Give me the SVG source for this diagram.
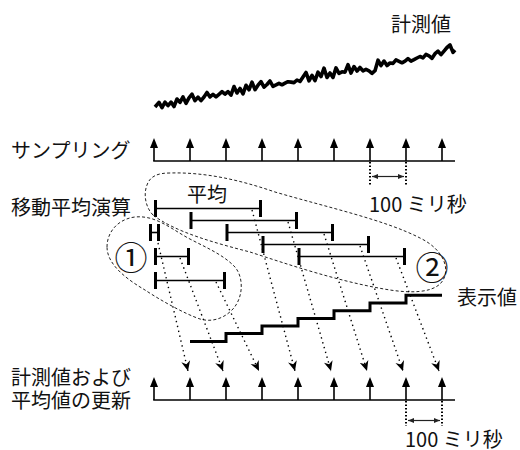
<svg xmlns="http://www.w3.org/2000/svg" width="520" height="450" viewBox="0 0 520 450">
<style>
.t{font-family:"Noto Sans CJK JP","Noto Sans",sans-serif;font-size:20px;fill:#111}
.ax{stroke:#000;stroke-width:1.6;fill:none}
.up{stroke:#000;stroke-width:1.6;fill:none;marker-end:url(#tri)}
.bar{stroke:#000;stroke-width:1.6;fill:none}
.tick{stroke:#000;stroke-width:3;fill:none}
.dot{stroke:#000;stroke-width:1.4;fill:none;stroke-dasharray:1.4 3.6;marker-end:url(#barb)}
.vd{stroke:#000;stroke-width:2;fill:none;stroke-dasharray:1.5 2}
.dim{stroke:#222;stroke-width:1.2;fill:none;marker-start:url(#sm);marker-end:url(#sm)}
.ell{stroke:#222;stroke-width:1;fill:none;stroke-dasharray:3 2.2}
.cn{font-size:33px}
</style>
<defs>
<marker id="tri" markerUnits="userSpaceOnUse" viewBox="0 0 10 10" markerWidth="10" markerHeight="10" refX="0" refY="5" orient="auto"><path d="M0,1 L10,5 L0,9 z" fill="#000"/></marker>
<marker id="barb" markerUnits="userSpaceOnUse" viewBox="0 0 10 10" markerWidth="10" markerHeight="10" refX="10" refY="5" orient="auto"><path d="M0,0.5 L10,5 L0,9.5 L3,5 z" fill="#000"/></marker>
<marker id="sm" markerUnits="userSpaceOnUse" viewBox="0 0 6 6" markerWidth="6" markerHeight="6" refX="6" refY="3" orient="auto-start-reverse"><path d="M0,0.5 L6,3 L0,5.5 z" fill="#222"/></marker>
</defs>

<g id="measured">
<polyline fill="none" stroke="#000" stroke-width="3.6" stroke-linejoin="round" points="155,107 159,102.3 162,107.7 165,102.2 168,105.6 171,102.1 174,106.5 177,99 180,102.4 183,96.9 186,103.3 189,97.8 192,94.2 195,100.7 198,97.1 201,100.6 204,97 207,92.5 210,96.9 213,94.4 216,96.8 219,94.3 222,91.7 225,94.2 228,91.6 231,95.1 234,86.5 237,93 240,88.4 243,93.9 246,85.3 249,89.8 252,82.2 255,89.7 258,85.2 261,81.6 264,87.1 267,84.5 270,81 273,86.4 276,84.9 279,83.3 282,84.8 285,83.2 288,81.7 291,82.1 294,82.6 297,80 300,81.5 303,76.9 306,72.4 309,80.8 312,75.3 315,80.7 318,72.2 321,76.6 324,68.1 327,77.5 330,73 333,77.4 336,67.9 339,73.3 342,71.8 345,72.2 348,64.7 351,73.1 354,66.6 357,71 360,67.5 363,70.9 366,69.4 369,70.8 372,73.3 375,70.7 378,60.2 381,65.6 384,61.1 387,65.5 390,63 393,63.4 396,59.9 399,61.3 402,62.8 405,61.2 408,58.7 411,61.1 414,59.6 417,58 420,56.5 423,57.9 426,54.4 429,55.8 432,58.3 435,53.7 438,51.2 441,54.6 444,51.1 447,47.5 450,45 453,52.4 455,50"/>
<text class="t" x="391" y="31.5">計測値</text>
</g>

<g id="sampling">
<text class="t" x="11" y="158">サンプリング</text>
<line class="ax" x1="153.2" y1="161" x2="455" y2="161"/>
<line class="up" x1="154" y1="161" x2="154" y2="148"/>
<line class="up" x1="190" y1="161" x2="190" y2="148"/>
<line class="up" x1="226" y1="161" x2="226" y2="148"/>
<line class="up" x1="262" y1="161" x2="262" y2="148"/>
<line class="up" x1="298" y1="161" x2="298" y2="148"/>
<line class="up" x1="334" y1="161" x2="334" y2="148"/>
<line class="up" x1="370" y1="161" x2="370" y2="148"/>
<line class="up" x1="406" y1="161" x2="406" y2="148"/>
<line class="up" x1="442" y1="161" x2="442" y2="148"/>
<line class="vd" x1="370" y1="162" x2="370" y2="185"/>
<line class="vd" x1="406" y1="162" x2="406" y2="185"/>
<line class="dim" x1="372" y1="176.5" x2="404" y2="176.5"/>
<text class="t" x="369" y="211.5">100 ミリ秒</text>
</g>

<g id="moving-average">
<text class="t" x="11" y="215">移動平均演算</text>
<text class="t" x="187" y="201.5">平均</text>
<g id="bar1"><line class="bar" x1="155.5" y1="208.5" x2="260.5" y2="208.5"/><path class="tick" d="M155.5,200V217M260.5,200V217"/></g>
<g id="bar2"><line class="bar" x1="191" y1="220.5" x2="296.5" y2="220.5"/><path class="tick" d="M191,212V229M296.5,212V229"/></g>
<g id="bar3"><line class="bar" x1="227" y1="232.5" x2="332.5" y2="232.5"/><path class="tick" d="M227,224V241M332.5,224V241"/></g>
<g id="bar4"><line class="bar" x1="263" y1="244.5" x2="368.5" y2="244.5"/><path class="tick" d="M263,236V253M368.5,236V253"/></g>
<g id="bar5"><line class="bar" x1="299" y1="256.5" x2="404.5" y2="256.5"/><path class="tick" d="M299,248V265M404.5,248V265"/></g>
<g id="barH"><line class="bar" x1="150.5" y1="232.5" x2="158.5" y2="232.5"/><path class="tick" d="M150.5,224V241M158.5,224V241"/></g>
<g id="barS"><line class="bar" x1="155.5" y1="256.5" x2="188.5" y2="256.5"/><path class="tick" d="M155.5,248V265M188.5,248V265"/></g>
<g id="barM"><line class="bar" x1="155.5" y1="280.5" x2="224.5" y2="280.5"/><path class="tick" d="M155.5,272V289M224.5,272V289"/></g>
</g>

<g id="group1">
<path class="ell" d="M107,247 C107,232 118,219 135,217 C155,215 170,228 188,238 C205,247 222,254 234,266 C244,276 244,298 232,310 C222,320 210,322 200,319 C185,314 160,300 145,290 C128,280 107,265 107,247 Z"/>
<text class="t cn" x="131" y="270" text-anchor="middle">①</text>
</g>

<g id="group2">
<path class="ell" d="M153,215 C146,208 143,195 147,185 C150,176 158,173 170,173 C205,172 240,180 275,192 C330,208 385,220 420,238 C445,250 452,272 440,284 C430,293 410,293 390,290 C340,282 290,265 250,252 C215,243 175,232 153,215 Z"/>
<text class="t cn" x="432" y="280" text-anchor="middle">②</text>
</g>

<g id="display">
<path fill="none" stroke="#000" stroke-width="3" d="M190,341.5H226V333.5H262V326H298V318.5H334V310.8H370V303H406V295.3H442"/>
<text class="t" x="457" y="305">表示値</text>
</g>

<g id="update">
<text class="t" x="11" y="384.5">計測値および</text>
<text class="t" x="11" y="407.5">平均値の更新</text>
<line class="ax" x1="153.2" y1="400" x2="455" y2="400"/>
<line class="up" x1="154" y1="400" x2="154" y2="387"/>
<line class="up" x1="190" y1="400" x2="190" y2="387"/>
<line class="up" x1="226" y1="400" x2="226" y2="387"/>
<line class="up" x1="262" y1="400" x2="262" y2="387"/>
<line class="up" x1="298" y1="400" x2="298" y2="387"/>
<line class="up" x1="334" y1="400" x2="334" y2="387"/>
<line class="up" x1="370" y1="400" x2="370" y2="387"/>
<line class="up" x1="406" y1="400" x2="406" y2="387"/>
<line class="up" x1="442" y1="400" x2="442" y2="387"/>
<line class="vd" x1="406" y1="401" x2="406" y2="426"/>
<line class="vd" x1="442" y1="401" x2="442" y2="426"/>
<line class="dim" x1="408" y1="420.5" x2="440" y2="420.5"/>
<text class="t" x="405" y="447">100 ミリ秒</text>
</g>

<g id="connectors">
<line class="dot" x1="158" y1="243" x2="188" y2="371"/>
<line class="dot" x1="180" y1="258" x2="223" y2="371"/>
<line class="dot" x1="216" y1="282" x2="259" y2="371"/>
<line class="dot" x1="252" y1="210" x2="295" y2="371"/>
<line class="dot" x1="288" y1="222" x2="331" y2="371"/>
<line class="dot" x1="324" y1="234" x2="367" y2="371"/>
<line class="dot" x1="360" y1="246" x2="403" y2="371"/>
<line class="dot" x1="396" y1="258" x2="439" y2="371"/>
</g>
</svg>
